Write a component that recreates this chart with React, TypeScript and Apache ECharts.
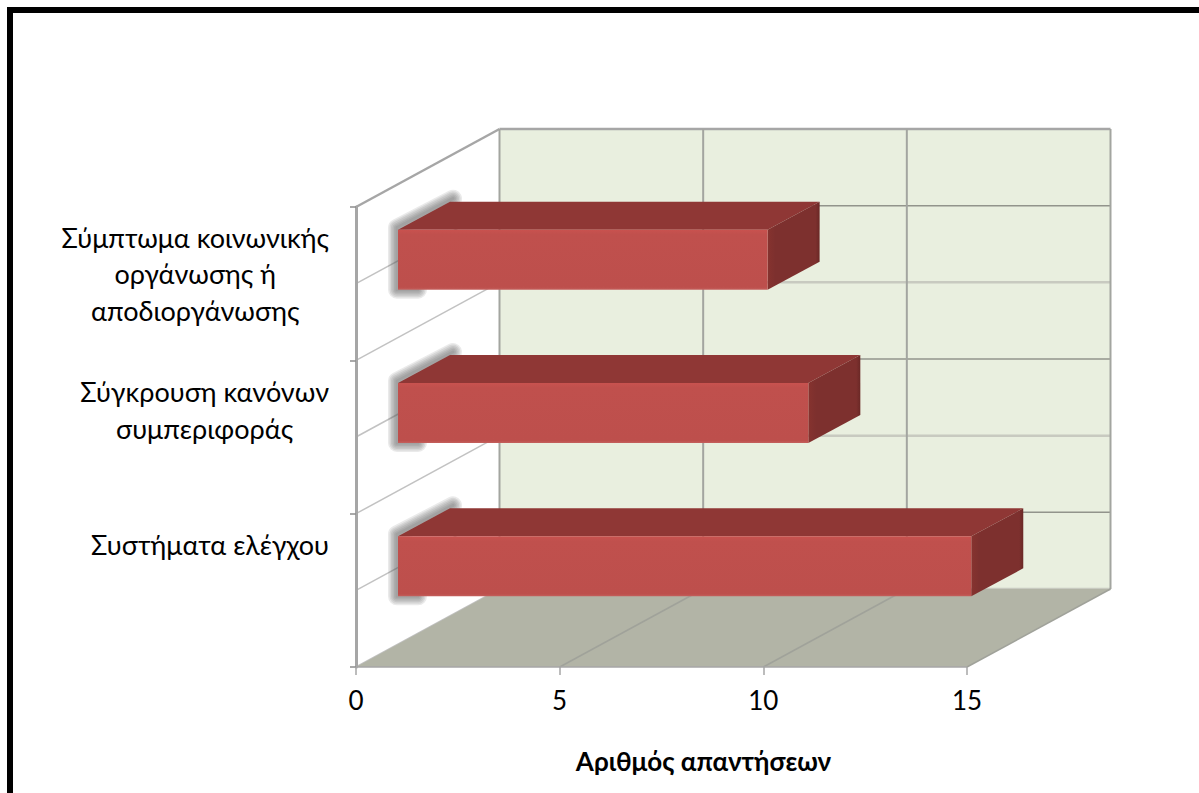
import React, { useEffect, useRef } from "react";
import * as echarts from "echarts";

const categories = [
  ["Συστήματα ελέγχου"],
  ["Σύγκρουση κανόνων", "συμπεριφοράς"],
  ["Σύμπτωμα κοινωνικής", "οργάνωσης ή", "αποδιοργάνωσης"],
];
const labelGaps = [91, 54, 20];
const values = [14, 10, 9];
const xTicks = [0, 5, 10, 15];
const axisName = "Αριθμός απαντήσεων";
const FONT = "Lato, 'Open Sans', 'Noto Sans', sans-serif";
const FONT_SIZE = 26;
const CATEGORY_FONT_SIZE = 27;

const DEPTH_X = 143.5;
const DEPTH_Y = 78;
const BAR_DX = 42;
const BAR_END_DX = 45;
const BAR_DY = 24;
const BAR_H = 60;
const BAR_DEPTH_X = 52;
const BAR_DEPTH_Y = 28;
const SHADOW_WIDTHS = [18, 15, 12, 9, 6, 3];

const poly = (points: number[][], fill: any, extra: any = {}) => ({
  type: "polygon",
  silent: true,
  shape: { points },
  style: { fill, ...extra },
});
const seg = (a: number[], b: number[], stroke: string, lineWidth: number) => ({
  type: "line",
  silent: true,
  shape: { x1: a[0], y1: a[1], x2: b[0], y2: b[1] },
  style: { stroke, lineWidth },
});

function renderWalls(params: any, api: any) {
  const cs = params.coordSys;
  const L = cs.x;
  const T = cs.y;
  const B = cs.y + cs.height;
  const R = cs.x + cs.width;
  const kids: any[] = [];
  kids.push(poly([[L, T], [L + DEPTH_X, T - DEPTH_Y], [L + DEPTH_X, B - DEPTH_Y], [L, B]], "#ffffff"));
  kids.push(poly([[L + DEPTH_X, T - DEPTH_Y], [R + DEPTH_X, T - DEPTH_Y], [R + DEPTH_X, B - DEPTH_Y], [L + DEPTH_X, B - DEPTH_Y]], "#e9efdf"));
  const steps = categories.length * 2;
  for (let i = 0; i <= steps; i++) {
    const y = T + (cs.height * i) / steps;
    const strong = i % 2 === 1;
    kids.push(seg([L, y], [L + DEPTH_X, y - DEPTH_Y], i === 0 ? "#a6a6a6" : "#c2c2c2", i === 0 ? 2.5 : 1.5));
    kids.push(seg([L + DEPTH_X, y - DEPTH_Y], [R + DEPTH_X, y - DEPTH_Y], i === 0 ? "#a6a6a6" : strong ? "#92948c" : "#c8cac0", strong ? 1.5 : 2.5));
  }
  xTicks.forEach((t) => {
    const x = api.coord([t, 0])[0];
    kids.push(seg([x + DEPTH_X, T - DEPTH_Y], [x + DEPTH_X, B - DEPTH_Y], "#a3a5a0", 2));
  });
  kids.push(poly([[L, B], [L + DEPTH_X, B - DEPTH_Y], [R + DEPTH_X, B - DEPTH_Y], [R, B]], "#b2b4a6"));
  xTicks.slice(1).forEach((t) => {
    const x = api.coord([t, 0])[0];
    kids.push(seg([x, B], [x + DEPTH_X, B - DEPTH_Y], "#a0a29a", 1.5));
  });
  kids.push(seg([L, B], [R, B], "#a6a6a6", 1.5));
  return { type: "group", children: kids };
}

function renderBar(_params: any, api: any) {
  const val = api.value(0);
  const cat = api.value(1);
  const [xEnd, yc] = api.coord([val, cat]);
  const x0 = api.coord([0, cat])[0];
  const l = x0 + BAR_DX;
  const r = xEnd + BAR_END_DX;
  const t = yc - BAR_DY - BAR_H / 2;
  const b = t + BAR_H;
  const dx = BAR_DEPTH_X;
  const dy = BAR_DEPTH_Y;
  const frontFill = new echarts.graphic.LinearGradient(0, 0, 0, 1, [
    { offset: 0, color: "#c9524f" },
    { offset: 0.08, color: "#c0504d" },
    { offset: 0.96, color: "#bd4f4c" },
    { offset: 1, color: "#c4605d" },
  ]);
  const sideFill = new echarts.graphic.LinearGradient(0, 0, 1, 0, [
    { offset: 0, color: "#86332f" },
    { offset: 0.15, color: "#7d302e" },
    { offset: 0.92, color: "#7d302e" },
    { offset: 1, color: "#6a2826" },
  ]);
  const shadow = SHADOW_WIDTHS.map((w) => ({
    type: "polyline",
    silent: true,
    shape: { points: [[l + 20, b], [l - 1, b], [l - 1, t - 2], [l + dx + 3, t - dy - 3]] },
    style: { stroke: "#5a5a5a", fill: "none", lineWidth: w, opacity: 0.13, lineJoin: "round", lineCap: "round" },
  }));
  return {
    type: "group",
    children: [
      ...shadow,
      poly([[l, t], [l + dx, t - dy], [r + dx, t - dy], [r, t]], "#8f3735"),
      poly([[r, t], [r + dx, t - dy], [r + dx, b - dy], [r, b]], sideFill),
      poly([[l, t], [r, t], [r, b], [l, b]], frontFill),
    ],
  };
}

export default function App() {
  const ref = useRef<HTMLDivElement>(null);
  useEffect(() => {
    const chart = echarts.init(ref.current!, null, { renderer: "svg" });
    const rich: any = {
      l: { align: "center", fontFamily: FONT, fontSize: CATEGORY_FONT_SIZE, color: "#000000", lineHeight: 36.5 },
    };
    labelGaps.forEach((g, i) => {
      rich["g" + i] = { lineHeight: g, fontSize: 1 };
    });
    chart.setOption({
      animation: false,
      backgroundColor: "#ffffff",
      graphic: [
        {
          type: "polyline",
          silent: true,
          shape: { points: [[10, 800], [10, 10], [1210, 10]] },
          style: { stroke: "#000000", fill: "none", lineWidth: 6 },
          z: 0,
        },
      ],
      grid: { left: 356, right: 232, top: 207, bottom: 126 },
      xAxis: {
        type: "value",
        z: 2,
        min: 0,
        max: 15,
        interval: 5,
        splitLine: { show: false },
        axisLine: { show: false },
        axisTick: { show: true, length: 8, lineStyle: { color: "#a6a6a6", width: 1.5 } },
        axisLabel: { margin: 20, fontFamily: FONT, fontSize: FONT_SIZE, color: "#000000" },
        name: axisName,
        nameLocation: "middle",
        nameGap: 81,
        nameTextStyle: { fontFamily: FONT, fontSize: FONT_SIZE, fontWeight: "bold", color: "#000000", padding: [0, 0, 0, 84] },
      },
      yAxis: {
        type: "category",
        z: 2,
        data: categories.map((c) => c.join(" ")),
        splitLine: { show: false },
        axisLine: { show: true, lineStyle: { color: "#a6a6a6", width: 3 } },
        axisTick: { show: true, length: 6, lineStyle: { color: "#8c8c8c", width: 1.5 } },
        axisLabel: {
          interval: 0,
          margin: 27,
          align: "right",
          formatter: (_v: string, i: number) =>
            categories[i].map((s) => `{l|${s}}`).join("\n") + `\n{g${i}| }`,
          rich,
        },
      },
      series: [
        {
          type: "custom",
          renderItem: renderWalls,
          data: [[0, 0]],
          encode: { x: 0, y: 1 },
          clip: false,
          silent: true,
          z: 1,
        },
        {
          type: "custom",
          renderItem: renderBar,
          data: values.map((v, i) => [v, i]),
          encode: { x: 0, y: 1 },
          clip: false,
          silent: true,
          z: 3,
        },
      ],
    });
    return () => chart.dispose();
  }, []);
  return <div ref={ref} style={{ position: "absolute", left: 0, top: 0, width: 1199, height: 793 }} />;
}
